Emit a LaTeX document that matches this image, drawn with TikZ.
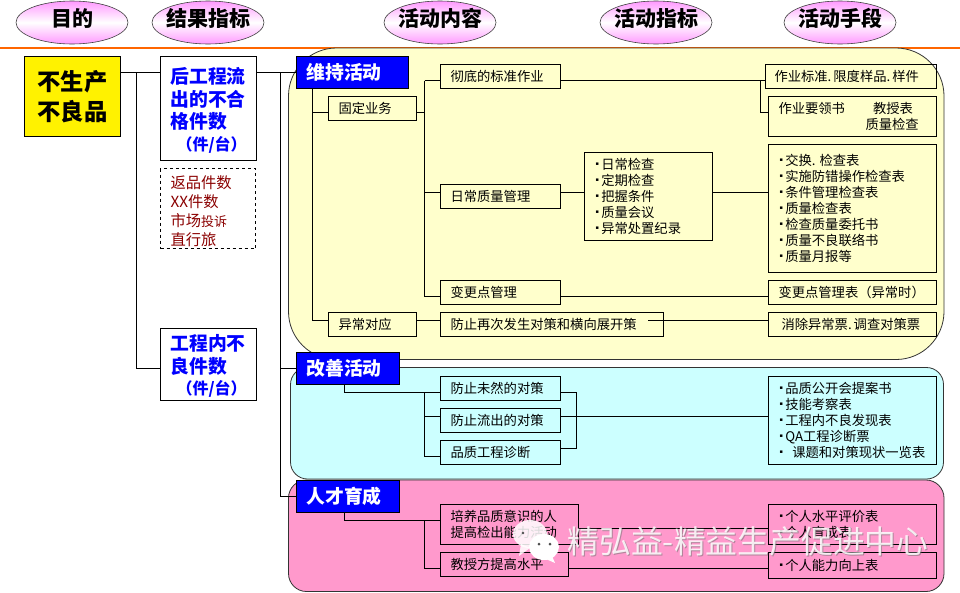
\documentclass[tikz,border=0pt]{standalone}
\usepackage{fontspec}
\setmainfont{Noto Sans CJK SC}
\newfontfamily\symfont{DejaVu Sans}
\usetikzlibrary{calc,shapes.geometric}

\newcommand{\blt}{\raisebox{4pt}{\symfont\fontsize{5}{5}\selectfont ▪}\hspace{2.4pt}}
\newcommand{\fsz}[2]{\fontsize{#1}{#2}\selectfont}
\newcommand{\headtxt}[1]{\raisebox{-8pt}{\smash{\makebox[0pt]{#1}}}}
\newcommand{\topgap}[1]{\rule{0pt}{\dimexpr0.88em+#1\relax}}

\definecolor{headpink}{HTML}{FF99FF}
\definecolor{lineorange}{HTML}{FF6600}
\definecolor{keepyellow}{HTML}{FFFFCC}
\definecolor{kaizencyan}{HTML}{CCFFFF}
\definecolor{peoplepink}{HTML}{FF99CC}
\definecolor{trackred}{HTML}{8B0000}

\tikzset{
	headoval/.style={ellipse,draw=black!75,line width=0.6pt,top color=headpink,bottom color=headpink,middle color=white,
		minimum width=112pt,minimum height=43pt,inner sep=0pt,font=\fsz{21}{24}\bfseries},
	tbox/.style 2 args={draw=black,line width=1pt,anchor=north west,outer sep=0pt,inner xsep=10pt,inner ysep=0pt,
		minimum width=#1,minimum height=#2,text width={#1-20pt},align=left,font=\fsz{13.3}{16}},
	listbox/.style 2 args={tbox={#1}{#2},inner xsep=11pt,text width={#1-22pt}},
	catbox/.style 2 args={tbox={#1}{#2},fill=blue,text=white,font=\fsz{18.8}{22}\bfseries},
	kpibox/.style 2 args={tbox={#1}{#2},fill=white,text=blue,font=\fsz{18.8}{22.5}\bfseries},
	link/.style={draw=black,line width=1pt},
	panel/.style={draw=black!80,line width=0.8pt},
}

\begin{document}
\begin{tikzpicture}[x=1pt,y=-1pt]
	\useasboundingbox (0,0) rectangle (960,592);
	\fill[white] (0,0) rectangle (960,592);

	% column heads
	\node[headoval] (goal) at (72,22.5) {\headtxt{目的}};
	\node[headoval] (result) at (208,22.5) {\headtxt{结果指标}};
	\node[headoval] (content) at (440,22.5) {\headtxt{活动内容}};
	\node[headoval] (index) at (656,22.5) {\headtxt{活动指标}};
	\node[headoval] (means) at (840,22.5) {\headtxt{活动手段}};
	\draw[lineorange,line width=1.6pt] (0,48) -- (960,48);

	% panels
	\draw[panel,fill=keepyellow,rounded corners=48pt] (288.5,48) rectangle (944,359.5);
	\draw[panel,fill=kaizencyan,rounded corners=17pt] (290.5,367.5) rectangle (943.5,479);
	\draw[panel,fill=peoplepink,rounded corners=18pt] (288.5,480) rectangle (944,591.5);

	% free ends of the connectors
	\coordinate (trunkA) at (136.5,72.5);
	\coordinate (trunkB) at (280.5,72.5);
	\coordinate (keepdrop) at (312.5,88.5);
	\coordinate (routinefork) at (424.5,112.5);
	\coordinate (stdfork) at (760.5,80.5);
	\coordinate (preventout) at (648,320.5);
	\coordinate (kaizendrop) at (344.5,384.5);
	\coordinate (kaizenfork) at (424.5,392.5);
	\coordinate (kaizenjoin) at (576.5,392.5);
	\coordinate (peopledrop) at (344.5,512.5);
	\coordinate (peoplefork) at (424.5,520.5);

	% left columns
	\node[tbox={96pt}{80pt},fill=yellow,font=\fsz{23.3}{30}\bfseries,inner xsep=13pt,text width=70pt] (nodefect) at (24.5,56.5) {不生产\\不良品};
	\node[kpibox={96pt}{104pt}] (outflow) at (160.5,56.5) {\topgap{3pt}后工程流\\出的不合\\格件数\\[-1pt]\hspace*{6pt}{\fsz{16}{20}（件/台）}};
	\node[tbox={95pt}{80pt},dashed,text=trackred,font=\fsz{15.3}{19}] (claims) at (160.5,168.5) {\topgap{4pt}返品件数\\XX件数\\市场{\fsz{13}{19}投诉}\\直行旅};
	\node[kpibox={96pt}{72pt}] (inprocess) at (160.5,328.5) {\topgap{3pt}工程内不\\良件数\\[-1pt]\hspace*{6pt}{\fsz{16}{20}（件/台）}};

	% categories
	\node[catbox={112pt}{32pt}] (keep) at (296.5,56.5) {维持活动};
	\node[catbox={103pt}{32pt}] (kaizen) at (296.5,352.5) {改善活动};
	\node[catbox={103pt}{32pt}] (people) at (296.5,480.5) {人才育成};

	% left trunks
	\draw[link] (nodefect.east |- trunkA) -- (outflow.west |- trunkA);
	\draw[link] (trunkA) |- (inprocess.west |- 0,368.5);
	\draw[link] (outflow.east |- trunkB) -- (keep.west |- trunkB);
	\draw[link] (trunkB) |- (kaizen.west |- 0,368.5);
	\draw[link] (trunkB) |- (people.west |- 0,496.5);

	% keep panel
	\node[tbox={88pt}{24pt}] (routine) at (328.5,96.5) {固定业务};
	\node[tbox={88pt}{24pt}] (abnormal) at (328.5,312.5) {异常对应};
	\node[tbox={120pt}{24pt}] (standard) at (440.5,64.5) {彻底的标准作业};
	\node[tbox={120pt}{24pt}] (daily) at (440.5,184.5) {日常质量管理};
	\node[tbox={120pt}{24pt}] (change) at (440.5,280.5) {变更点管理};
	\node[tbox={223pt}{24pt}] (prevent) at (440.5,312.5) {防止再次发生对策和横向展开策};
	\node[listbox={128pt}{88pt}] (checks) at (584.5,152.5) {\blt 日常检查\\\blt 定期检查\\\blt 把握条件\\\blt 质量会议\\\blt 异常处置纪录};
	\node[tbox={171pt}{24pt},inner xsep=9pt,text width=153pt] (stdsheet) at (765.5,64.5) {作业标准.\hspace{2pt}限度样品.\hspace{2pt}样件};
	\node[tbox={168pt}{40pt}] (manual) at (768.5,96.5) {作业要领书\hspace{28pt}教授表\\\hspace{87pt}质量检查};
	\node[listbox={168pt}{128pt}] (sheets) at (768.5,144.5) {\blt 交换.\hspace{4pt}检查表\\\blt 实施防错操作检查表\\\blt 条件管理检查表\\\blt 质量检查表\\\blt 检查质量委托书\\\blt 质量不良联络书\\\blt 质量月报等};
	\node[tbox={168pt}{24pt}] (changesheet) at (768.5,280.5) {变更点管理表（异常时）};
	\node[tbox={168pt}{24pt}] (cancel) at (768.5,312.5) {\hspace{3pt}消除异常票.\hspace{2pt}调查对策票};

	% kaizen panel
	\node[tbox={120pt}{24pt}] (unrealized) at (440.5,376.5) {防止未然的对策};
	\node[tbox={120pt}{24pt}] (leakage) at (440.5,408.5) {防止流出的对策};
	\node[tbox={120pt}{24pt}] (diagnosis) at (440.5,440.5) {品质工程诊断};
	\node[listbox={168pt}{88pt}] (reports) at (768.5,376.5) {\blt 品质公开会提案书\\\blt 技能考察表\\\blt 工程内不良发现表\\\blt QA工程诊断票\\\blt \hspace{7pt}课题和对策现状一览表};

	% people panel
	\node[tbox={138pt}{40pt}] (training) at (440.5,504.5) {培养品质意识的人\\提高检出能力活动};
	\node[tbox={128pt}{24pt}] (teacher) at (440.5,552.5) {教授方提高水平};
	\node[listbox={168pt}{40pt}] (skills) at (768.5,504.5) {\blt 个人水平评价表\\\blt 个人育成表};
	\node[listbox={168pt}{26pt}] (ability) at (768.5,552.5) {\blt 个人能力向上表};

	% keep links
	\draw[link] (keepdrop) |- (abnormal.west |- 0,320.5);
	\draw[link] (keepdrop |- 0,112.5) -- (routine.west |- 0,112.5);
	\draw[link] (routine.east |- routinefork) -- (routinefork);
	\draw[link] (routinefork |- 0,80.5) |- (change.west |- 0,296.5);
	\draw[link] (routinefork |- 0,80.5) -- (standard.west |- 0,80.5);
	\draw[link] (routinefork |- 0,192.5) -- (daily.west |- 0,192.5);
	\draw[link] (standard.east |- 0,80.5) -- (stdsheet.west |- 0,80.5);
	\draw[link] (stdfork) |- (manual.west |- 0,112.5);
	\draw[link] (daily.east |- 0,192.5) -- (checks.west |- 0,192.5);
	\draw[link] (checks.east |- 0,192.5) -- (sheets.west |- 0,192.5);
	\draw[link] (change.east |- 0,296.5) -- (changesheet.west |- 0,296.5);
	\draw[link] (abnormal.east |- 0,320.5) -- (prevent.west |- 0,320.5);
	\draw[link] (preventout) -- (cancel.west |- preventout);

	% kaizen links
	\draw[link] (kaizendrop) |- (unrealized.west |- kaizenfork);
	\draw[link] (kaizenfork) |- (diagnosis.west |- 0,456.5);
	\draw[link] (kaizenfork |- 0,416.5) -- (leakage.west |- 0,416.5);
	\draw[link] (unrealized.east |- kaizenjoin) -- (kaizenjoin) |- (diagnosis.east |- 0,448.5);
	\draw[link] (leakage.east |- 0,416.5) -- (reports.west |- 0,416.5);

	% people links
	\draw[link] (peopledrop) |- (training.west |- peoplefork);
	\draw[link] (peoplefork) |- (teacher.west |- 0,568.5);
	\draw[link] (training.east |- 0,528.5) -- (skills.west |- 0,528.5);
	\draw[link] (teacher.east |- 0,568.5) -- (ability.west |- 0,568.5);

	% watermark
	\fill[white,opacity=0.85] (530,534) ellipse (17pt and 14pt);
	\fill[white,opacity=0.85] (519,556) -- (521,544) -- (530,548) -- cycle;
	\fill[white] (544,547) ellipse (15pt and 13pt);
	\fill[white] (555,563) -- (552,556) -- (546,559) -- cycle;
	\fill[black!70] (539,544) circle (1.5pt) (550,544) circle (1.5pt);
	\fill[black!70] (523,533) circle (1.3pt);
	\node[text=black!55,opacity=0.55,font=\fsz{31.8}{33}] (markshadow) at (749,542.5) {精弘益-精益生产促进中心};
	\node[text=white,opacity=0.85,font=\fsz{31.8}{33}] (mark) at (748,541.5) {精弘益-精益生产促进中心};
\end{tikzpicture}
\end{document}
